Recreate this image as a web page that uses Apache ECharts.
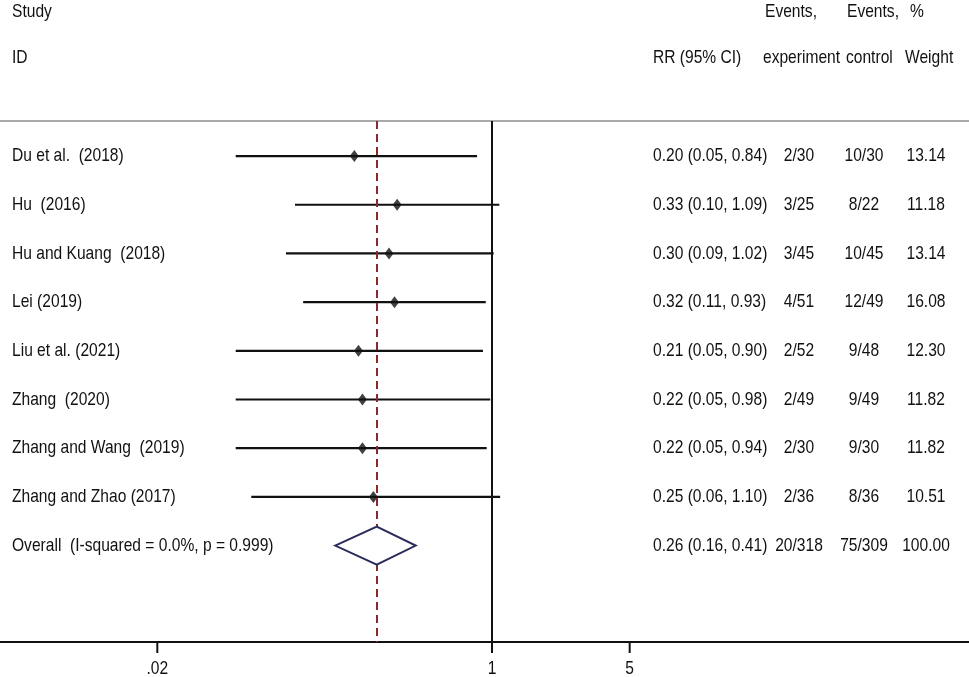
<!DOCTYPE html>
<html>
<head>
<meta charset="utf-8">
<script src="https://cdn.jsdelivr.net/npm/echarts@6/dist/echarts.min.js"></script>
<style>
  html, body { margin: 0; padding: 0; background: #fff; }
  #forest { width: 969px; height: 677px; }
</style>
</head>
<body>
<div id="forest"></div>
<script>
// studies and estimates (RR, 95% CI)
var studies = ['Du et al.  (2018)', 'Hu  (2016)', 'Hu and Kuang  (2018)', 'Lei (2019)',
    'Liu et al. (2021)', 'Zhang  (2020)', 'Zhang and Wang  (2019)', 'Zhang and Zhao (2017)'];
var rr = [0.20, 0.33, 0.30, 0.32, 0.21, 0.22, 0.22, 0.25];
var ciLow = [0.05, 0.10, 0.09, 0.11, 0.05, 0.05, 0.05, 0.06];
var ciHigh = [0.84, 1.09, 1.02, 0.93, 0.90, 0.98, 0.94, 1.10];
var eventsExp = ['2/30', '3/25', '3/45', '4/51', '2/52', '2/49', '2/30', '2/36'];
var eventsCtrl = ['10/30', '8/22', '10/45', '12/49', '9/48', '9/49', '9/30', '8/36'];
var weights = ['13.14', '11.18', '13.14', '16.08', '12.30', '11.82', '11.82', '10.51'];

// pooled result
var overallLabel = 'Overall  (I-squared = 0.0%, p = 0.999)';
var overallRR = 0.26;
var overallLow = 0.16;
var overallHigh = 0.41;
var overallExp = '20/318';
var overallCtrl = '75/309';
var overallWeight = '100.00';

// x axis ticks
var tickValues = [0.02, 1, 5];
var tickLabels = ['.02', '1', '5'];

// header texts
var headerTop = ['Study', 'Events,', 'Events,', '%'];
var headerBottom = ['ID', 'RR (95% CI)', 'experiment', 'control', 'Weight'];

// no narrow font installed, so squeeze Liberation Sans horizontally
var FONT = '"Liberation Sans", Arial, sans-serif';
var FS = 19;
var SQUEEZE = 0.82;

function DrawForest() {
    var chart = echarts.init(document.getElementById('forest'));

    var nRows = studies.length;
    var overallRow = nRows + 1;

    var ciData = [];
    var pointData = [];
    var textData = [];
    for (var i = 0; i < nRows; i++) {
        ciData.push([ciLow[i], i + 1, ciHigh[i]]);
        pointData.push([rr[i], i + 1]);
        textData.push([1, i + 1]);
    }
    textData.push([1, overallRow]);

    function fmt(e, l, h) {
        return e.toFixed(2) + ' (' + l.toFixed(2) + ', ' + h.toFixed(2) + ')';
    }
    var rowLabels = studies.concat([overallLabel]);
    var rrTexts = [];
    for (var k = 0; k < nRows; k++) rrTexts.push(fmt(rr[k], ciLow[k], ciHigh[k]));
    rrTexts.push(fmt(overallRR, overallLow, overallHigh));
    var expTexts = eventsExp.concat([overallExp]);
    var ctrlTexts = eventsCtrl.concat([overallCtrl]);
    var wTexts = weights.concat([overallWeight]);

    function txt(x, y, s, align) {
        return {
            type: 'text',
            x: x,
            y: y,
            scaleX: SQUEEZE,
            style: {
                x: 0, y: 0, text: s, fill: '#111',
                font: FS + 'px ' + FONT,
                textAlign: align, textVerticalAlign: 'middle'
            }
        };
    }

    var option = {
        animation: false,
        backgroundColor: '#fff',
        grid: { left: 0, right: 0, top: 121, bottom: 35 },
        xAxis: [
            {
                type: 'log',
                logBase: 10,
                min: 0.00318,
                max: 264,
                axisLine: { show: true, onZero: false, lineStyle: { color: '#111', width: 2 } },
                axisTick: { show: false },
                axisLabel: { show: false },
                splitLine: { show: false }
            },
            {
                type: 'value',
                position: 'top',
                axisLine: { show: true, onZero: false, lineStyle: { color: '#aaa', width: 2 } },
                axisTick: { show: false },
                axisLabel: { show: false },
                splitLine: { show: false }
            }
        ],
        yAxis: {
            type: 'value',
            inverse: true,
            min: 0.28,
            max: 10.98,
            show: false
        },
        graphic: [
            txt(12, 12, headerTop[0], 'left'),
            txt(765, 12, headerTop[1], 'left'),
            txt(847, 12, headerTop[2], 'left'),
            txt(910, 12, headerTop[3], 'left'),
            txt(12, 58, headerBottom[0], 'left'),
            txt(653, 58, headerBottom[1], 'left'),
            txt(763, 58, headerBottom[2], 'left'),
            txt(846, 58, headerBottom[3], 'left'),
            txt(905, 58, headerBottom[4], 'left')
        ],
        series: [
            {
                // confidence intervals
                type: 'custom',
                z: 2,
                data: ciData,
                renderItem: function (params, api) {
                    var a = api.coord([api.value(0), api.value(1)]);
                    var b = api.coord([api.value(2), api.value(1)]);
                    return {
                        type: 'line',
                        shape: { x1: a[0], y1: a[1], x2: b[0], y2: b[1] },
                        style: { stroke: '#111', lineWidth: 2.2 }
                    };
                },
                markLine: {
                    silent: true,
                    symbol: 'none',
                    label: { show: false },
                    data: [
                        { xAxis: 1, lineStyle: { color: '#111', width: 2, type: 'solid' } },
                        { xAxis: overallRR, lineStyle: { color: '#8b2a2e', width: 2, type: [8, 5] } }
                    ]
                }
            },
            {
                // point estimates
                type: 'scatter',
                z: 3,
                symbol: 'diamond',
                symbolSize: [9, 12],
                itemStyle: { color: '#111' },
                data: pointData
            },
            {
                // pooled diamond
                type: 'custom',
                z: 5,
                data: [[overallLow, overallRow, overallRR, overallHigh]],
                renderItem: function (params, api) {
                    var l = api.coord([api.value(0), api.value(1)]);
                    var m = api.coord([api.value(2), api.value(1)]);
                    var h = api.coord([api.value(3), api.value(1)]);
                    return {
                        type: 'polygon',
                        shape: { points: [[l[0], l[1]], [m[0], m[1] - 19], [h[0], h[1]], [m[0], m[1] + 19]] },
                        style: { fill: '#fff', stroke: '#2b2b5c', lineWidth: 2 }
                    };
                }
            },
            {
                // text columns
                type: 'custom',
                z: 6,
                data: textData,
                renderItem: function (params, api) {
                    var i = params.dataIndex;
                    var y = api.coord([1, api.value(1)])[1];
                    return {
                        type: 'group',
                        children: [
                            txt(12, y, rowLabels[i], 'left'),
                            txt(653, y, rrTexts[i], 'left'),
                            txt(799, y, expTexts[i], 'center'),
                            txt(864, y, ctrlTexts[i], 'center'),
                            txt(926, y, wTexts[i], 'center')
                        ]
                    };
                }
            },
            {
                // axis ticks and labels
                type: 'custom',
                z: 6,
                data: tickValues.map(function (v) { return [v, 10.98]; }),
                renderItem: function (params, api) {
                    var p = api.coord([api.value(0), api.value(1)]);
                    return {
                        type: 'group',
                        children: [
                            {
                                type: 'line',
                                shape: { x1: p[0], y1: p[1], x2: p[0], y2: p[1] + 11 },
                                style: { stroke: '#111', lineWidth: 2 }
                            },
                            txt(p[0], p[1] + 27, tickLabels[params.dataIndex], 'center')
                        ]
                    };
                }
            }
        ]
    };
    chart.setOption(option);
}

DrawForest();
</script>
</body>
</html>
